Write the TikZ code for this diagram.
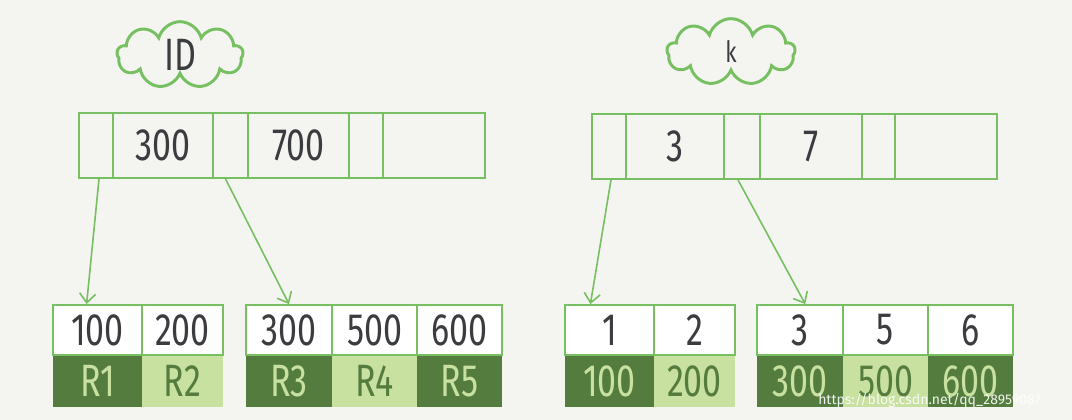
\documentclass[tikz,border=0pt]{standalone}
\usepackage{fontspec}
\setmainfont{Fira Sans}
\newfontfamily\handfont[FakeStretch=0.75]{Fira Sans}
\usetikzlibrary{arrows.meta,calc,shapes.symbols}
\definecolor{paper}{RGB}{244,244,240}
\definecolor{leafline}{RGB}{118,192,98}
\definecolor{rowdark}{RGB}{84,124,62}
\definecolor{rowlight}{RGB}{200,224,160}
\definecolor{inkgray}{RGB}{58,60,64}

\tikzset{
    hand/.style={font=\handfont\fontsize{34}{34}\selectfont},
    rootcell/.style={draw=leafline, line width=1.4pt, minimum height=48.75pt,
        inner sep=0pt, hand, text=inkgray},
    keycell/.style={draw=leafline, line width=1.4pt, fill=white,
        minimum height=37.5pt, inner sep=0pt, hand, text=inkgray},
    rowdarkcell/.style={fill=rowdark, text=rowlight, minimum height=39pt,
        inner sep=0pt, hand},
    rowlightcell/.style={fill=rowlight, text=rowdark, minimum height=39pt,
        inner sep=0pt, hand},
    idxcloud/.style={cloud, cloud puffs=9, cloud ignores aspect, draw=leafline,
        line width=2.2pt, inner sep=0pt, text=inkgray},
    ptr/.style={draw=leafline, line width=1.2pt,
        -{Straight Barb[length=7pt,width=12pt]}}
}

\begin{document}
\begin{tikzpicture}[x=0.75pt, y=-0.75pt]
    % Paper
    \fill[paper] (0,0) rectangle (1072,420);

    % Index names
    \node[idxcloud, minimum width=94.5pt, minimum height=50pt, hand]
        (idname) at (180,55) {ID};
    \node[idxcloud, minimum width=96pt, minimum height=50pt,
        font=\handfont\fontsize{22}{22}\selectfont]
        (kname) at (731,52) {k};

    % Root pages
    \foreach \x/\w/\t/\n in {96/25.5/{}/1, 163/75/300/2, 230.5/26.25/{}/3,
                             298.5/75.75/700/4, 366/25.5/{}/5, 434/76.5/{}/6} {
        \node[rootcell, minimum width=\w pt] (idroot\n) at (\x,145.5) {\t};
    }
    \foreach \x/\w/\t/\n in {609/25.5/{}/1, 675/73.5/3/2, 742/27/{}/3,
                             811/76.5/7/4, 878.5/24.75/{}/5, 946/76.5/{}/6} {
        \node[rootcell, minimum width=\w pt] (kroot\n) at (\x,146.5) {\t};
    }

    % Leaf pages, ID index
    \foreach \x/\w/\t/\r/\s/\n in {97.5/66.75/100/R1/rowdarkcell/1,
                                   182.5/60.75/200/R2/rowlightcell/2,
                                   289/64.5/300/R3/rowdarkcell/3,
                                   374.5/63.75/500/R4/rowlightcell/4,
                                   459.5/63.75/600/R5/rowdarkcell/5} {
        \node[\s, minimum width=\w pt] (idrow\n) at (\x,381) {\r};
        \node[keycell, minimum width=\w pt] (idleaf\n) at (\x,330) {\t};
    }

    % Leaf pages, k index
    \foreach \x/\w/\t/\r/\s/\n in {609.5/66.75/1/100/rowdarkcell/1,
                                   694.5/60.75/2/200/rowlightcell/2,
                                   800/64.5/3/300/rowdarkcell/3,
                                   885.5/63.75/5/500/rowlightcell/4,
                                   970.5/63.75/6/600/rowdarkcell/5} {
        \node[\s, minimum width=\w pt] (krow\n) at (\x,381) {\r};
        \node[keycell, minimum width=\w pt] (kleaf\n) at (\x,330) {\t};
    }

    % Pointers
    \draw[ptr] ($(idroot1.south)+(3,0)$) -- ($(idleaf1.north west)!0.38!(idleaf1.north east)$);
    \draw[ptr] ($(idroot3.south)+(-5,0)$) -- (idleaf3.north);
    \draw[ptr] ($(kroot1.south)+(2,0)$) -- ($(kleaf1.north west)!0.29!(kleaf1.north east)$);
    \draw[ptr] ($(kroot3.south)+(-4,0)$) -- ($(kleaf3.north west)!0.56!(kleaf3.north east)$);

    % Watermark
    \node[font=\fontsize{10.5}{10.5}\selectfont, text=white, text opacity=0.9,
        anchor=base west, inner sep=0pt] (mark) at (818,405)
        {https://blog.csdn.net/qq\_28959087};
\end{tikzpicture}
\end{document}
